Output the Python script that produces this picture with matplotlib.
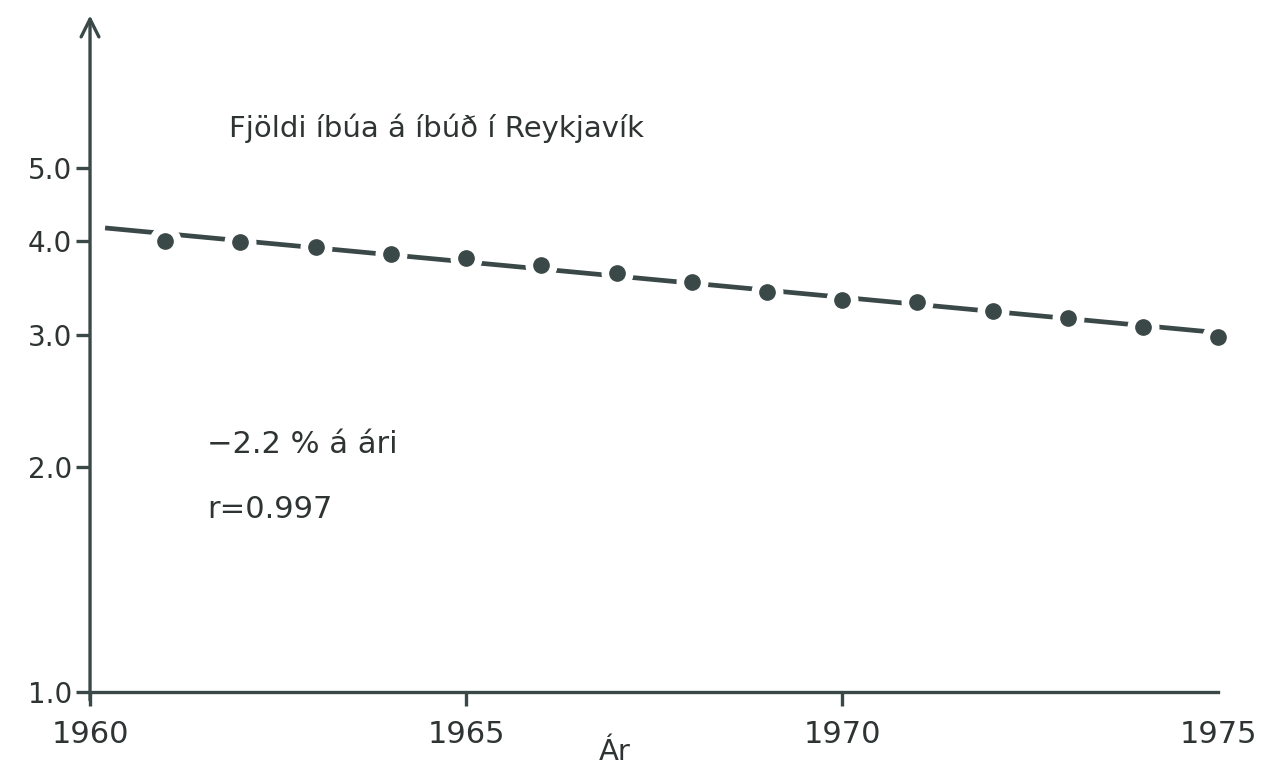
import numpy as np
import matplotlib
matplotlib.use("Agg")
import matplotlib.pyplot as plt
from matplotlib.ticker import FixedLocator, NullLocator

# Fjöldi íbúa á íbúð í Reykjavík, lesið af myndinni
years = [1961, 1962, 1963, 1964, 1965, 1966, 1967, 1968,
         1969, 1970, 1971, 1972, 1973, 1974, 1975]
residents = [4.00, 3.99, 3.93, 3.84, 3.80, 3.71, 3.62, 3.53,
             3.42, 3.34, 3.32, 3.23, 3.16, 3.07, 2.98]
y_ticks = [1.0, 2.0, 3.0, 4.0, 5.0]
y_labels = ["1.0", "2.0", "3.0", "4.0", "5.0"]
x_ticks = [1960, 1965, 1970, 1975]

ink = "#3b4848"
txt = "#2e3333"

# log-lína gegnum punktana
coef = np.polyfit(years, np.log10(residents), 1)
fit_x = np.array([1960.2, 1975])
fit_y = 10 ** np.polyval(coef, fit_x)

fig = plt.figure(figsize=(12.77, 7.69), dpi=100)
ax = fig.add_axes([0.0705, 0.100, 0.8835, 0.880])

ax.plot(fit_x, fit_y, color=ink, lw=3.4, solid_capstyle="butt", zorder=2)
ax.plot(years, residents, "o", ms=22, color="white", zorder=3, clip_on=False)
ax.plot(years, residents, "o", ms=11, color=ink, zorder=4, clip_on=False)

ax.set_yscale("log")
ax.set_ylim(1.0, 8.0)
ax.set_xlim(1960, 1975)

ax.yaxis.set_major_locator(FixedLocator(y_ticks))
ax.yaxis.set_minor_locator(NullLocator())
ax.set_yticklabels(y_labels)
ax.set_xticks(x_ticks)
ax.set_xticklabels([str(x) for x in x_ticks])
ax.xaxis.set_minor_locator(FixedLocator([1975]))

for s in ["top", "right", "left"]:
    ax.spines[s].set_visible(False)
ax.spines["bottom"].set_linewidth(2.4)
ax.spines["bottom"].set_color(ink)

ax.tick_params(axis="y", direction="out", length=10, width=2.4, color=ink,
               labelsize=20, labelcolor=txt, pad=3)
ax.tick_params(axis="x", which="major", direction="out", length=10, width=2.4,
               color=ink, labelsize=22, labelcolor=txt, pad=10)
ax.tick_params(axis="x", which="minor", direction="in", length=12, width=2.4,
               color=ink)
ax.xaxis.get_major_ticks()[-1].tick1line.set_visible(False)

# y-ás með ör
ax.annotate("", xy=(0, 1.0), xytext=(0, -0.012), xycoords="axes fraction",
            arrowprops=dict(arrowstyle="->", lw=2.4, color=ink,
                            mutation_scale=32, shrinkA=0, shrinkB=0))

ax.text(0.123, 0.82, "Fjöldi íbúa á íbúð í Reykjavík", transform=ax.transAxes,
        fontsize=21, color=txt, ha="left", va="baseline")
ax.text(0.104, 0.353, "\u22122.2 % á ári", transform=ax.transAxes,
        fontsize=22, color=txt, ha="left", va="baseline")
ax.text(0.104, 0.257, "r=0.997", transform=ax.transAxes,
        fontsize=22, color=txt, ha="left", va="baseline")

fig.text(0.481, 0.012, "Ár", fontsize=21, color=txt, ha="center",
         va="baseline")

fig.savefig("out.png", dpi=100, facecolor="white")
